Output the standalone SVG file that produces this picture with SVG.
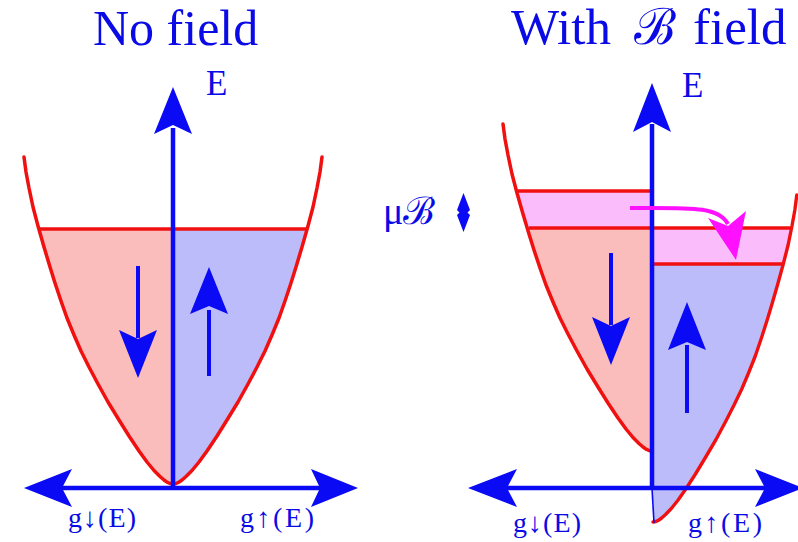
<svg xmlns="http://www.w3.org/2000/svg" xmlns:xlink="http://www.w3.org/1999/xlink" width="798" height="542" viewBox="0 0 798 542">
<style>
.t{fill:#0a0ae6;font-family:'Liberation Serif',serif}
.curve{fill:none;stroke:#f01010;stroke-width:3.5;stroke-linejoin:round;stroke-linecap:round}
.lvl{stroke:#f01010;stroke-width:3.5}
.ax{stroke:#0a0af5;stroke-width:4.5;fill:none}
.sm{stroke:#0a0af5;stroke-width:4;fill:none}
.hd{fill:#0a0af5}
.pink{fill:#fbbcbc}
.lav{fill:#bcbcfb}
.mag{fill:#fbbcfb}
</style>
<defs>
<path id="lb" d="M-149,-327 L-147,-312 L-144,-296 L-140,-277 L-135,-258 L-129,-237 L-123,-217 L-118,-201 L-112,-183 L-106,-166 L-99,-149 L-92,-133 L-84,-117 L-75,-100 L-65,-82 L-54,-64 L-44,-48 L-34,-33 L-26,-22 L-19,-13.5 L-13,-7.5 L-9,-4 L-6,-1.8 L-3,-0.5 L0,0"/>
<path id="rb" d="M0,0 L3,-0.5 L6,-1.8 L9,-4 L13,-7.5 L19,-13.5 L26,-22 L34,-33 L44,-48 L54,-64 L65,-82 L75,-100 L84,-117 L92,-133 L99,-149 L106,-166 L112,-183 L118,-201 L123,-217 L129,-237 L135,-258 L140,-277 L144,-296 L147,-312 L149,-327"/>
<clipPath id="cL">
<path transform="translate(173,484)" d="M-149,-327 L-147,-312 L-144,-296 L-140,-277 L-135,-258 L-129,-237 L-123,-217 L-118,-201 L-112,-183 L-106,-166 L-99,-149 L-92,-133 L-84,-117 L-75,-100 L-65,-82 L-54,-64 L-44,-48 L-34,-33 L-26,-22 L-19,-13.5 L-13,-7.5 L-9,-4 L-6,-1.8 L-3,-0.5 L0,0 L3,-0.5 L6,-1.8 L9,-4 L13,-7.5 L19,-13.5 L26,-22 L34,-33 L44,-48 L54,-64 L65,-82 L75,-100 L84,-117 L92,-133 L99,-149 L106,-166 L112,-183 L118,-201 L123,-217 L129,-237 L135,-258 L140,-277 L144,-296 L147,-312 L149,-327 Z"/>
</clipPath>
<clipPath id="cD">
<path transform="translate(652,451)" d="M-149,-327 L-147,-312 L-144,-296 L-140,-277 L-135,-258 L-129,-237 L-123,-217 L-118,-201 L-112,-183 L-106,-166 L-99,-149 L-92,-133 L-84,-117 L-75,-100 L-65,-82 L-54,-64 L-44,-48 L-34,-33 L-26,-22 L-19,-13.5 L-13,-7.5 L-9,-4 L-6,-1.8 L-3,-0.5 L0,0 L0,-327 Z"/>
</clipPath>
<clipPath id="cU">
<path transform="translate(653,522) scale(0.965,1)" d="M0,0 L3,-0.5 L6,-1.8 L9,-4 L13,-7.5 L19,-13.5 L26,-22 L34,-33 L44,-48 L54,-64 L65,-82 L75,-100 L84,-117 L92,-133 L99,-149 L106,-166 L112,-183 L118,-201 L123,-217 L129,-237 L135,-258 L140,-277 L144,-296 L147,-312 L149,-327 L0,-327 Z"/>
</clipPath>
</defs>

<g id="title-nofield"><text class="t" x="93" y="45" font-size="50">No field</text></g>
<g id="title-withfield">
<text class="t" x="511" y="44" font-size="51">With</text>
<text class="t" x="634" y="44" font-size="50">ℬ</text>
<text class="t" x="693" y="44" font-size="51">field</text>
</g>

<g id="band-nofield">
<g clip-path="url(#cL)">
<rect class="pink" x="20" y="229" width="153" height="260"/>
<rect class="lav" x="173" y="229" width="153" height="260"/>
</g>
<use href="#lb" xlink:href="#lb" class="curve" transform="translate(173,484)"/>
<use href="#rb" xlink:href="#rb" class="curve" transform="translate(173,484)"/>
<line class="lvl" x1="40" y1="229" x2="306" y2="229"/>
</g>

<g id="band-down">
<g clip-path="url(#cD)">
<rect class="mag" x="500" y="191" width="152" height="37"/>
<rect class="pink" x="500" y="228" width="152" height="225"/>
</g>
<use href="#lb" xlink:href="#lb" class="curve" transform="translate(652,451)"/>
<line class="lvl" x1="518" y1="191" x2="652" y2="191"/>
</g>

<g id="band-up">
<g clip-path="url(#cU)">
<rect class="mag" x="653" y="228" width="150" height="36"/>
<rect class="lav" x="653" y="264" width="150" height="260"/>
</g>
<use href="#rb" xlink:href="#rb" class="curve" transform="translate(653,522) scale(0.965,1)"/>
<line class="lvl" x1="652" y1="264" x2="783" y2="264"/>
</g>
<line class="lvl" x1="529" y1="228" x2="792" y2="228"/>

<g id="connectors">
<line class="ax" x1="173" y1="488" x2="173" y2="128"/>
<polygon class="hd" points="173,87 192,134 173,125 154,134"/>
<line class="ax" x1="62" y1="488" x2="320" y2="488"/>
<polygon class="hd" points="24,488 72,469 62,488 72,507"/>
<polygon class="hd" points="358,488 311,469 320,488 311,507"/>

<line class="ax" x1="652" y1="488" x2="652" y2="124"/>
<polygon class="hd" points="652,83 671,132 652,122 633,132"/>
<line x1="652" y1="488" x2="654" y2="523" stroke="#0a0af5" stroke-width="1.6"/>
<line class="ax" x1="507" y1="488" x2="765" y2="488"/>
<polygon class="hd" points="468,488 517,469 507,488 517,507"/>
<polygon class="hd" points="803,488 755,469 765,488 755,507"/>

<path d="M630,208 C690,208 718,206 728,224" fill="none" stroke="#ff10ff" stroke-width="4"/>
<polygon points="708,218 736,260 746,211 728,226" fill="#ff10ff"/>
</g>

<g id="spin-arrows">
<line class="sm" x1="138" y1="266" x2="138" y2="338"/>
<polygon class="hd" points="119,330 138,339 157,330 138,378"/>
<line class="sm" x1="209" y1="376" x2="209" y2="310"/>
<polygon class="hd" points="209,267 228,314 209,306 190,314"/>
<line class="sm" x1="611" y1="253" x2="611" y2="325"/>
<polygon class="hd" points="592,317 611,326 630,317 611,365"/>
<line class="sm" x1="687" y1="413" x2="687" y2="345"/>
<polygon class="hd" points="687,302 706,350 687,342 668,350"/>
</g>

<g id="labels">
<text class="t" x="206" y="95" font-size="35">E</text>
<text class="t" x="682" y="97" font-size="35">E</text>
<text class="t" x="68" y="527" font-size="28" textLength="68" lengthAdjust="spacing">g↓(E)</text>
<text class="t" x="240" y="527" font-size="28" textLength="74" lengthAdjust="spacing">g↑(E)</text>
<text class="t" x="513" y="532" font-size="28" textLength="68" lengthAdjust="spacing">g↓(E)</text>
<text class="t" x="688" y="532" font-size="28" textLength="74" lengthAdjust="spacing">g↑(E)</text>
</g>

<g id="muB">
<text class="t" x="383" y="224" font-size="38">μℬ</text>
<polygon class="hd" points="463.5,193 470,210 467.5,212.5 470,215 463.5,232 457,215 459.5,212.5 457,210"/>
</g>
</svg>
